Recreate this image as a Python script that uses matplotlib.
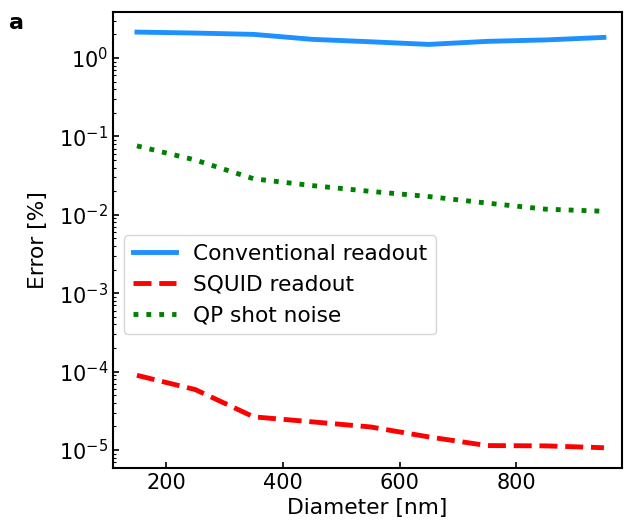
import matplotlib
matplotlib.use("Agg")
import matplotlib.pyplot as plt
import numpy as np

diameter = [150, 250, 350, 450, 550, 650, 750, 850, 950]
conventional = [2.14, 2.08, 2.0, 1.73, 1.61, 1.49, 1.63, 1.70, 1.83]
squid = [8.97e-5, 5.9e-5, 2.65e-5, 2.29e-5, 1.97e-5, 1.47e-5, 1.14e-5, 1.13e-5, 1.07e-5]
qp_noise = [0.0757, 0.050, 0.0288, 0.0236, 0.0199, 0.0171, 0.0141, 0.0118, 0.0111]

fig = plt.figure(figsize=(6.26, 5.21), dpi=100)
ax = fig.add_axes([113/626, 1 - 468/521, 509/626, 456/521])

ax.plot(diameter, conventional, color='dodgerblue', lw=3.5, label='Conventional readout')
ax.plot(diameter, squid, color='red', lw=3.5, ls='--', label='SQUID readout')
ax.plot(diameter, qp_noise, color='green', lw=3.5, ls=':', label='QP shot noise')

ax.set_yscale('log')
ax.set_ylim(5.9e-6, 3.86)
ax.set_xlim(109, 981)
ax.set_xticks([200, 400, 600, 800])
ax.tick_params(which='both', direction='in', labelsize=15)
ax.tick_params(which='major', length=4, width=1.2)
ax.tick_params(which='minor', length=2.5, width=0.8)
for s in ax.spines.values():
    s.set_linewidth(1.5)

ax.set_xlabel('Diameter [nm]', fontsize=15.7, labelpad=4)
ax.set_ylabel('Error [%]', fontsize=15.7, labelpad=8)
ax.legend(loc='upper left', bbox_to_anchor=(0.0, 0.534), fontsize=15.6)
fig.text(0.015, 0.975, 'a', fontsize=16, fontweight='bold', va='top')

fig.savefig('out.png', dpi=100)
